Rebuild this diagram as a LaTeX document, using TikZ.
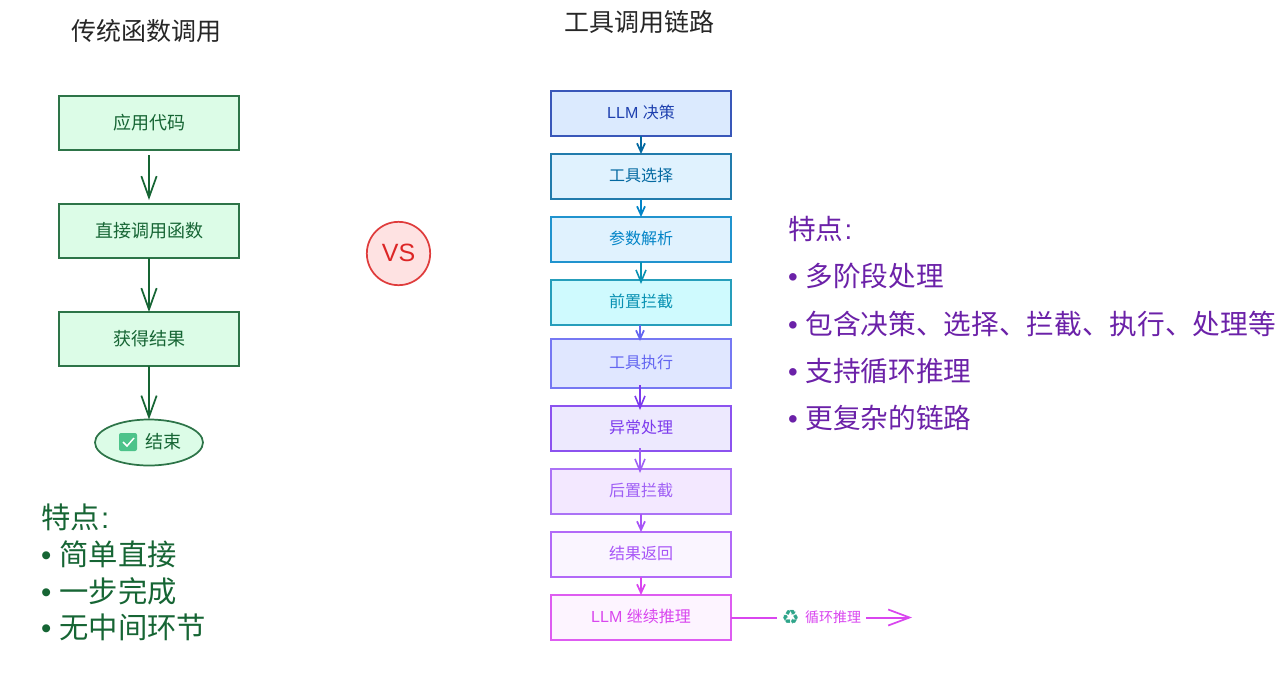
\documentclass[tikz,border=0pt]{standalone}
\usepackage{fontspec}
\setmainfont{Liberation Sans}
\newfontfamily\cjk{Noto Sans CJK SC}
\newfontfamily\symfont{DejaVu Sans}
\usetikzlibrary{arrows.meta,shapes.geometric}
\definecolor{gr}{HTML}{166534}
\definecolor{grfill}{HTML}{DCFCE7}
\definecolor{purp}{HTML}{6B21A8}
\definecolor{redc}{HTML}{DC2626}
\definecolor{redf}{HTML}{FEE2E2}
\definecolor{chkc}{HTML}{4CC38A}
\definecolor{recyc}{HTML}{2FA58A}
\definecolor{cA}{HTML}{1E40AF}\definecolor{fA}{HTML}{DBEAFE}
\definecolor{cB}{HTML}{0369A1}\definecolor{fB}{HTML}{E0F2FE}
\definecolor{cC}{HTML}{0284C7}\definecolor{fC}{HTML}{E0F2FE}
\definecolor{cD}{HTML}{0891B2}\definecolor{fD}{HTML}{CFFAFE}
\definecolor{cE}{HTML}{6366F1}\definecolor{fE}{HTML}{E0E7FF}
\definecolor{cF}{HTML}{7C3AED}\definecolor{fF}{HTML}{EDE9FE}
\definecolor{cG}{HTML}{9F5FF5}\definecolor{fG}{HTML}{F3E8FF}
\definecolor{cH}{HTML}{A855F7}\definecolor{fH}{HTML}{FAF5FF}
\definecolor{cI}{HTML}{D946EF}\definecolor{fI}{HTML}{FDF4FF}
\newcommand{\up}[1]{\raisebox{0.75pt}[\height][\depth]{#1}}
\tikzset{
 x=0.75pt,y=-0.75pt,
 every node/.style={inner sep=0pt,outer sep=0pt},
 lbox/.style={draw=gr!90!white,fill=grfill,line width=1.3pt,minimum width=135pt,minimum height=40.5pt,text=gr,font=\cjk\fontsize{13.5}{16}\selectfont},
 rbox/.style={draw=#1!88!white,line width=1.3pt,minimum width=135pt,text=#1,font=\cjk\fontsize{12}{15}\selectfont},
 larrow/.style={draw=gr,line width=1.5pt,-{Straight Barb[length=16pt,width=11.5pt,line width=1.3pt]}},
 sarrow/.style={draw=#1,line width=1.5pt,-{Straight Barb[length=6.5pt,width=6pt,line width=1.3pt]}},
 marrow/.style={draw=#1,line width=1.5pt,-{Straight Barb[length=9pt,width=7.5pt,line width=1.2pt]}},
 title/.style={text=black!85,font=\cjk\fontsize{18.75}{24}\selectfont},
 notes/.style={align=left,anchor=north west,font=\cjk\fontsize{22}{27.5}\selectfont,text=gr},
 notesb/.style={anchor=west,font=\cjk\fontsize{20.75}{26}\selectfont,text=purp},
}
\newcommand{\bul}{{\rmfamily • }}
\newcommand{\cln}{{\kern1pt\rmfamily :}}
\begin{document}
\begin{tikzpicture}
\useasboundingbox (0,0) rectangle (1283,683);
\node[title] (t1) at (146,31) {传统函数调用};
\node[title] (t2) at (639,22) {工具调用链路};
% left
\node[lbox] (a1) at (149,123) {应用代码};
\node[lbox] (a2) at (149,231) {直接调用函数};
\node[lbox] (a3) at (149,339) {获得结果};
\node[ellipse,draw=gr!90!white,fill=grfill,line width=1.3pt,minimum width=81pt,minimum height=34.5pt] (a4) at (149,442.5) {};
\node[text=gr,font=\cjk\fontsize{13.5}{16}\selectfont] (a4t) at (163.5,442) {结束};
\node[fill=chkc,rounded corners=1.5pt,minimum size=13.5pt] (chk) at (128,442) {};
\draw[white,line width=1.1pt] (123,442) -- (127,446) -- (134,438);
\draw[larrow,shorten <=3.75pt,shorten >=3pt] (a1.south) -- (a2.north);
\draw[larrow] (a2.south) -- (a3.north);
\draw[larrow] (a3.south) -- (a4.north);
% notes
\node[notes] (n1) at (41,504) {特点\cln\\\bul 简单直接\\\bul 一步完成\\\bul 无中间环节};
% VS
\node[circle,draw=redc!90!white,fill=redf,line width=1.3pt,minimum size=47.5pt,text=redc,font=\fontsize{18.75}{24}\selectfont] (vs) at (398.5,253.5) {\up{VS}};
% right chain
\node[rbox=cA,fill=fA,minimum height=33.75pt,font=\fontsize{12}{15}\selectfont] (b1) at (641,113.5) {\up{LLM {\cjk 决策}}};
\node[rbox=cB,fill=fB,minimum height=33.75pt] (b2) at (641,176.5) {\up{工具选择}};
\node[rbox=cC,fill=fC,minimum height=33.75pt] (b3) at (641,239.5) {\up{参数解析}};
\node[rbox=cD,fill=fD,minimum height=33.75pt] (b4) at (641,302.5) {\up{前置拦截}};
\node[rbox=cE,fill=fE,minimum height=36.75pt] (b5) at (641,363.5) {\up{工具执行}};
\node[rbox=cF,fill=fF,minimum height=33.75pt] (b6) at (641,428.5) {\up{异常处理}};
\node[rbox=cG,fill=fG,minimum height=33.75pt] (b7) at (641,491.5) {\up{后置拦截}};
\node[rbox=cH,fill=fH,minimum height=33.75pt] (b8) at (641,554.5) {\up{结果返回}};
\node[rbox=cI,fill=fI,minimum height=33.75pt,font=\fontsize{12}{15}\selectfont] (b9) at (641,617.5) {\up{LLM {\cjk 继续推理}}};
\draw[sarrow=cB] (b1.south) -- (b2.north);
\draw[sarrow=cC] (b2.south) -- (b3.north);
\draw[marrow=cD,shorten >=-3pt] (b3.south) -- (b4.north);
\draw[sarrow=cE] ([xshift=-0.75pt]b4.south) -- ([xshift=-0.75pt,yshift=-1.5pt]b5.north);
\draw[marrow=cF,shorten <=-2pt,shorten >=-3pt] ([xshift=-0.75pt]b5.south) -- ([xshift=-0.75pt]b6.north);
\draw[marrow=cG,shorten <=-2pt,shorten >=-3pt,line width=1pt] ([xshift=-0.75pt]b6.south) -- ([xshift=-0.75pt]b7.north);
\draw[sarrow=cH] (b7.south) -- (b8.north);
\draw[sarrow=cI] (b8.south) -- (b9.north);
% loop label
\coordinate (loopstart) at (777,617.5);
\coordinate (loopmid) at (866,617.5);
\coordinate (loopend) at (912,617.5);
\node[text=cI,font=\cjk\fontsize{10.5}{13}\selectfont] (lt) at (833,617.5) {循环推理};
\node[text=recyc,font=\symfont\fontsize{15}{16}\selectfont] (lr) at (790.5,617) {♻};
\draw[cI,line width=1.5pt] (b9.east) -- (loopstart);
\draw[draw=cI,line width=1.5pt,-{Straight Barb[length=16pt,width=12pt,line width=1.3pt]}] (loopmid) -- (loopend);
% right notes
\node[notesb] (m0) at (788,229) {特点\cln};
\node[notesb] (m1) at (788,276) {\bul 多阶段处理};
\node[notesb] (m2) at (788,324) {\bul 包含决策、选择、拦截、执行、处理等};
\node[notesb] (m3) at (788,371) {\bul 支持循环推理};
\node[notesb] (m4) at (788,418) {\bul 更复杂的链路};
\end{tikzpicture}
\end{document}
